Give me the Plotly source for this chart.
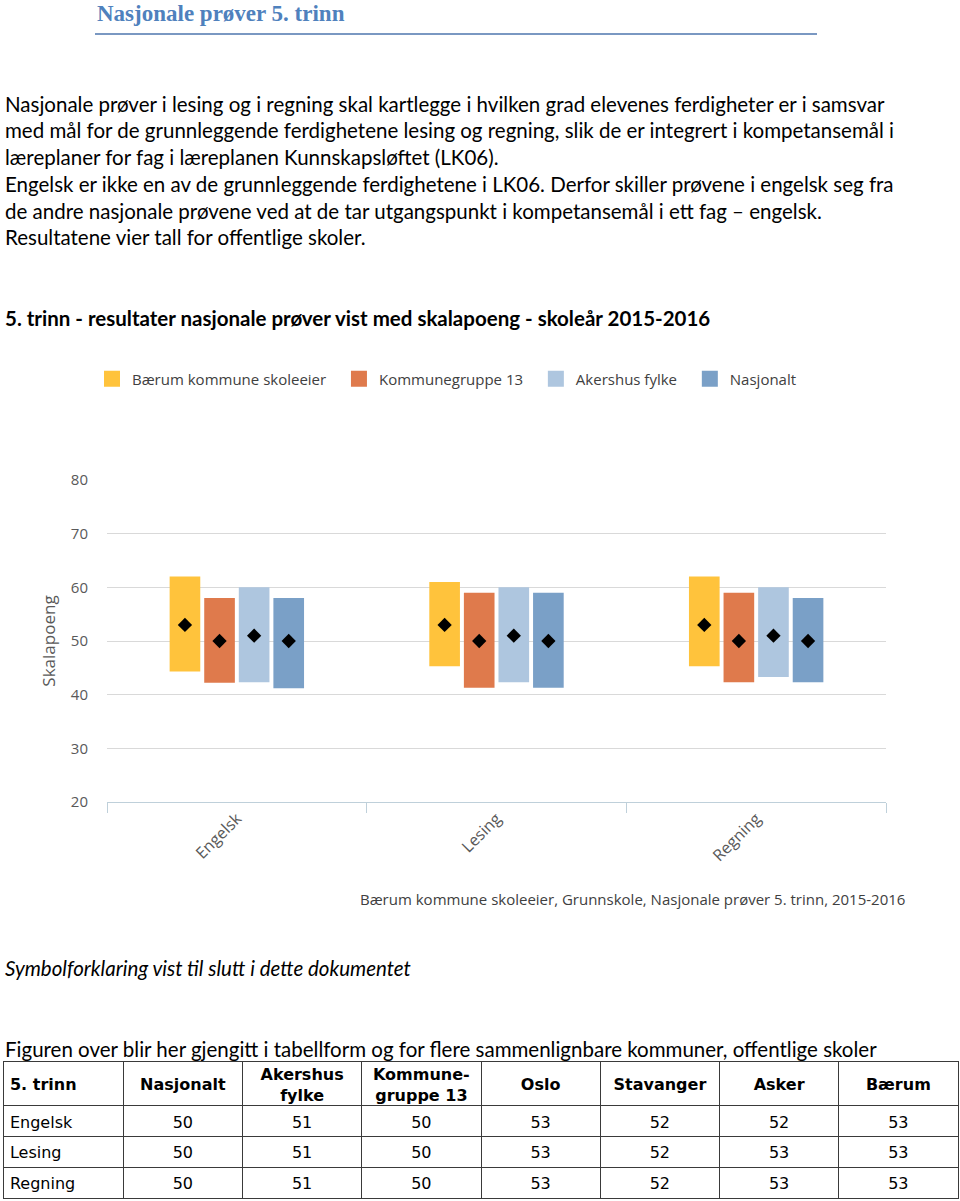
import plotly.graph_objects as go

# ---------------- data ----------------
categories = ["Engelsk", "Lesing", "Regning"]
series_names = ["Bærum kommune skoleeier", "Kommunegruppe 13", "Akershus fylke", "Nasjonalt"]
series_colors = ["#FFC33C", "#DF7A4C", "#AEC6DF", "#7AA0C7"]

baerum_low = [44.3, 45.3, 45.3]
baerum_high = [62, 61, 62]
baerum_mean = [53, 53, 53]

kg13_low = [42.2, 41.3, 42.3]
kg13_high = [58, 59, 59]
kg13_mean = [50, 50, 50]

akershus_low = [42.3, 42.3, 43.3]
akershus_high = [60, 60, 60]
akershus_mean = [51, 51, 51]

nasjonalt_low = [41.2, 41.3, 42.3]
nasjonalt_high = [58, 59, 58]
nasjonalt_mean = [50, 50, 50]

y_ticks = [20, 30, 40, 50, 60, 70, 80]

table_header = ["5. trinn", "Nasjonalt", "Akershus<br>fylke", "Kommune-<br>gruppe 13",
                "Oslo", "Stavanger", "Asker", "Bærum"]
table_subjects = ["Engelsk", "Lesing", "Regning"]
table_nasjonalt = [50, 50, 50]
table_akershus = [51, 51, 51]
table_kg13 = [50, 50, 50]
table_oslo = [53, 53, 53]
table_stavanger = [52, 52, 52]
table_asker = [52, 53, 53]
table_baerum = [53, 53, 53]

paragraph_lines = [
    "Nasjonale prøver i lesing og i regning skal kartlegge i hvilken grad elevenes ferdigheter er i samsvar",
    "med mål for de grunnleggende ferdighetene lesing og regning, slik de er integrert i kompetansemål i",
    "læreplaner for fag i læreplanen Kunnskapsløftet (LK06).",
    "Engelsk er ikke en av de grunnleggende ferdighetene i LK06. Derfor skiller prøvene i engelsk seg fra",
    "de andre nasjonale prøvene ved at de tar utgangspunkt i kompetansemål i ett fag – engelsk.",
    "Resultatene vier tall for offentlige skoler.",
]

# ---------------- layout helpers ----------------
W, H = 960, 1201


def fx(px):
    return px / W


def fy(py):
    return 1 - py / H


SLOT = 0.1332
BAR_W = 0.118
HEADER_H = 1.42   # header row height relative to a body row
TEXT_NUDGE = 0.08  # small downward nudge of table text (row units)
NBSP = "\u00a0"

lows = [baerum_low, kg13_low, akershus_low, nasjonalt_low]
highs = [baerum_high, kg13_high, akershus_high, nasjonalt_high]
means = [baerum_mean, kg13_mean, akershus_mean, nasjonalt_mean]

fig = go.Figure()
idx = list(range(len(categories)))
for k, name in enumerate(series_names):
    off = (k - 1.5) * SLOT
    xs = [i + off for i in idx]
    fig.add_trace(go.Bar(
        x=xs, y=[h - l for h, l in zip(highs[k], lows[k])], base=lows[k],
        width=BAR_W, marker=dict(color=series_colors[k], line=dict(width=0)),
        name=name, showlegend=False, hoverinfo="skip"))
for k, name in enumerate(series_names):
    off = (k - 1.5) * SLOT
    xs = [i + off for i in idx]
    fig.add_trace(go.Scatter(
        x=xs, y=means[k], mode="markers",
        marker=dict(symbol="diamond", size=11, color="black"),
        showlegend=False, name=name))
# legend entries
for k, name in enumerate(series_names):
    fig.add_trace(go.Scatter(
        x=[None], y=[None], mode="markers", name=name + NBSP * 2,
        marker=dict(symbol="square", size=18, color=series_colors[k])))

# ---------------- table (own axes) ----------------
table_cols = [table_nasjonalt, table_akershus, table_kg13, table_oslo,
              table_stavanger, table_asker, table_baerum]
row_centers = [HEADER_H + r + 0.5 + TEXT_NUDGE for r in range(len(table_subjects))]
head_center = HEADER_H / 2 + TEXT_NUDGE
tfont = dict(family="DejaVu Sans", size=16, color="black")

# header
fig.add_trace(go.Scatter(
    x=[0.05], y=[head_center], text=["<b>%s</b>" % table_header[0]],
    mode="text", textposition="middle right", textfont=tfont,
    xaxis="x2", yaxis="y2", showlegend=False, hoverinfo="skip"))
fig.add_trace(go.Scatter(
    x=[c + 0.5 for c in range(1, len(table_header))], y=[head_center] * (len(table_header) - 1),
    text=["<b>%s</b>" % h for h in table_header[1:]],
    mode="text", textposition="middle center", textfont=tfont,
    xaxis="x2", yaxis="y2", showlegend=False, hoverinfo="skip"))
# first column
fig.add_trace(go.Scatter(
    x=[0.05] * len(table_subjects), y=row_centers, text=table_subjects,
    mode="text", textposition="middle right", textfont=tfont,
    xaxis="x2", yaxis="y2", showlegend=False, hoverinfo="skip"))
# numeric cells
cx, cy, ct = [], [], []
for c, col in enumerate(table_cols, start=1):
    for r, v in enumerate(col):
        cx.append(c + 0.5)
        cy.append(row_centers[r])
        ct.append(str(v))
fig.add_trace(go.Scatter(
    x=cx, y=cy, text=ct, mode="text", textposition="middle center", textfont=tfont,
    xaxis="x2", yaxis="y2", showlegend=False, hoverinfo="skip"))

fig.update_layout(
    width=W, height=H,
    margin=dict(l=0, r=0, t=0, b=0, autoexpand=False),
    paper_bgcolor="white", plot_bgcolor="white",
    barmode="overlay",
    font=dict(family="Open Sans", color="#595959"),
    showlegend=True,
    legend=dict(orientation="h", x=fx(92), y=fy(379), xanchor="left", yanchor="middle",
                font=dict(family="Open Sans", size=15, color="#404040"),
                itemclick=False, itemdoubleclick=False),
    xaxis=dict(domain=[fx(107), fx(886)], range=[-0.5, 2.5],
               tickmode="array", tickvals=idx, ticktext=categories, tickangle=-45,
               ticks="", showgrid=False, zeroline=False,
               showline=True, linecolor="#BFD0DA", linewidth=1,
               tickfont=dict(family="Open Sans", size=16, color="#595959"),
               minor=dict(tickvals=[-0.5, 0.5, 1.5, 2.5], ticks="outside", ticklen=10,
                          tickcolor="#BFD0DA", showgrid=False)),
    yaxis=dict(domain=[fy(802), fy(480)], range=[20, 80],
               tickmode="array", tickvals=y_ticks,
               showgrid=True, gridcolor="#D9D9D9", zeroline=False, showline=False,
               ticks="", ticklabelstandoff=18,
               tickfont=dict(family="Open Sans", size=15, color="#595959"),
               title=dict(text="Skalapoeng", standoff=10,
                          font=dict(family="Open Sans", size=17, color="#595959"))),
    xaxis2=dict(domain=[fx(4), fx(958)], range=[0, len(table_header)], anchor="y2",
                tickmode="array", tickvals=list(range(1, len(table_header))),
                showgrid=True, gridcolor="#3A3A3A", gridwidth=1,
                showline=True, mirror=True, linecolor="#3A3A3A", linewidth=1,
                showticklabels=False, ticks="", zeroline=False, fixedrange=True),
    yaxis2=dict(domain=[fy(1198), fy(1062)], range=[HEADER_H + len(table_subjects), 0],
                anchor="x2", tickmode="array",
                tickvals=[HEADER_H + r for r in range(len(table_subjects))],
                showgrid=True, gridcolor="#3A3A3A", gridwidth=1,
                showline=True, mirror=True, linecolor="#3A3A3A", linewidth=1,
                showticklabels=False, ticks="", zeroline=False, fixedrange=True),
)

ann = []
# heading
ann.append(dict(text="<b>Nasjonale prøver 5. trinn</b>", x=fx(95), y=fy(14),
                xanchor="left", yanchor="middle", showarrow=False,
                font=dict(family="Liberation Serif", size=23, color="#4F81BD")))
para_y = [104, 130, 157, 184, 211, 237]
body_font = dict(family="Lato", size=20.5, color="black")
for t, yy in zip(paragraph_lines, para_y):
    ann.append(dict(text=t, x=fx(3), y=fy(yy), xanchor="left", yanchor="middle",
                    showarrow=False, font=body_font))
ann.append(dict(text="<b>5. trinn - resultater nasjonale prøver vist med skalapoeng - skoleår 2015-2016</b>",
                x=fx(3), y=fy(318), xanchor="left", yanchor="middle", showarrow=False,
                font=body_font))
ann.append(dict(text="Bærum kommune skoleeier, Grunnskole, Nasjonale prøver 5. trinn, 2015-2016",
                x=fx(907), y=fy(899), xanchor="right", yanchor="middle", showarrow=False,
                font=dict(family="Open Sans", size=15, color="#404040")))
ann.append(dict(text="<i>Symbolforklaring vist til slutt i dette dokumentet</i>",
                x=fx(3), y=fy(968), xanchor="left", yanchor="middle", showarrow=False,
                font=body_font))
ann.append(dict(text="Figuren over blir her gjengitt i tabellform og for flere sammenlignbare kommuner, offentlige skoler",
                x=fx(3), y=fy(1049), xanchor="left", yanchor="middle", showarrow=False,
                font=body_font))
for a in ann:
    a["xref"] = "paper"
    a["yref"] = "paper"
fig.update_layout(annotations=ann)

fig.add_shape(type="line", xref="paper", yref="paper",
              x0=fx(95), x1=fx(817), y0=fy(34), y1=fy(34),
              line=dict(color="#7A98C2", width=2))

fig.write_html("out.html")
